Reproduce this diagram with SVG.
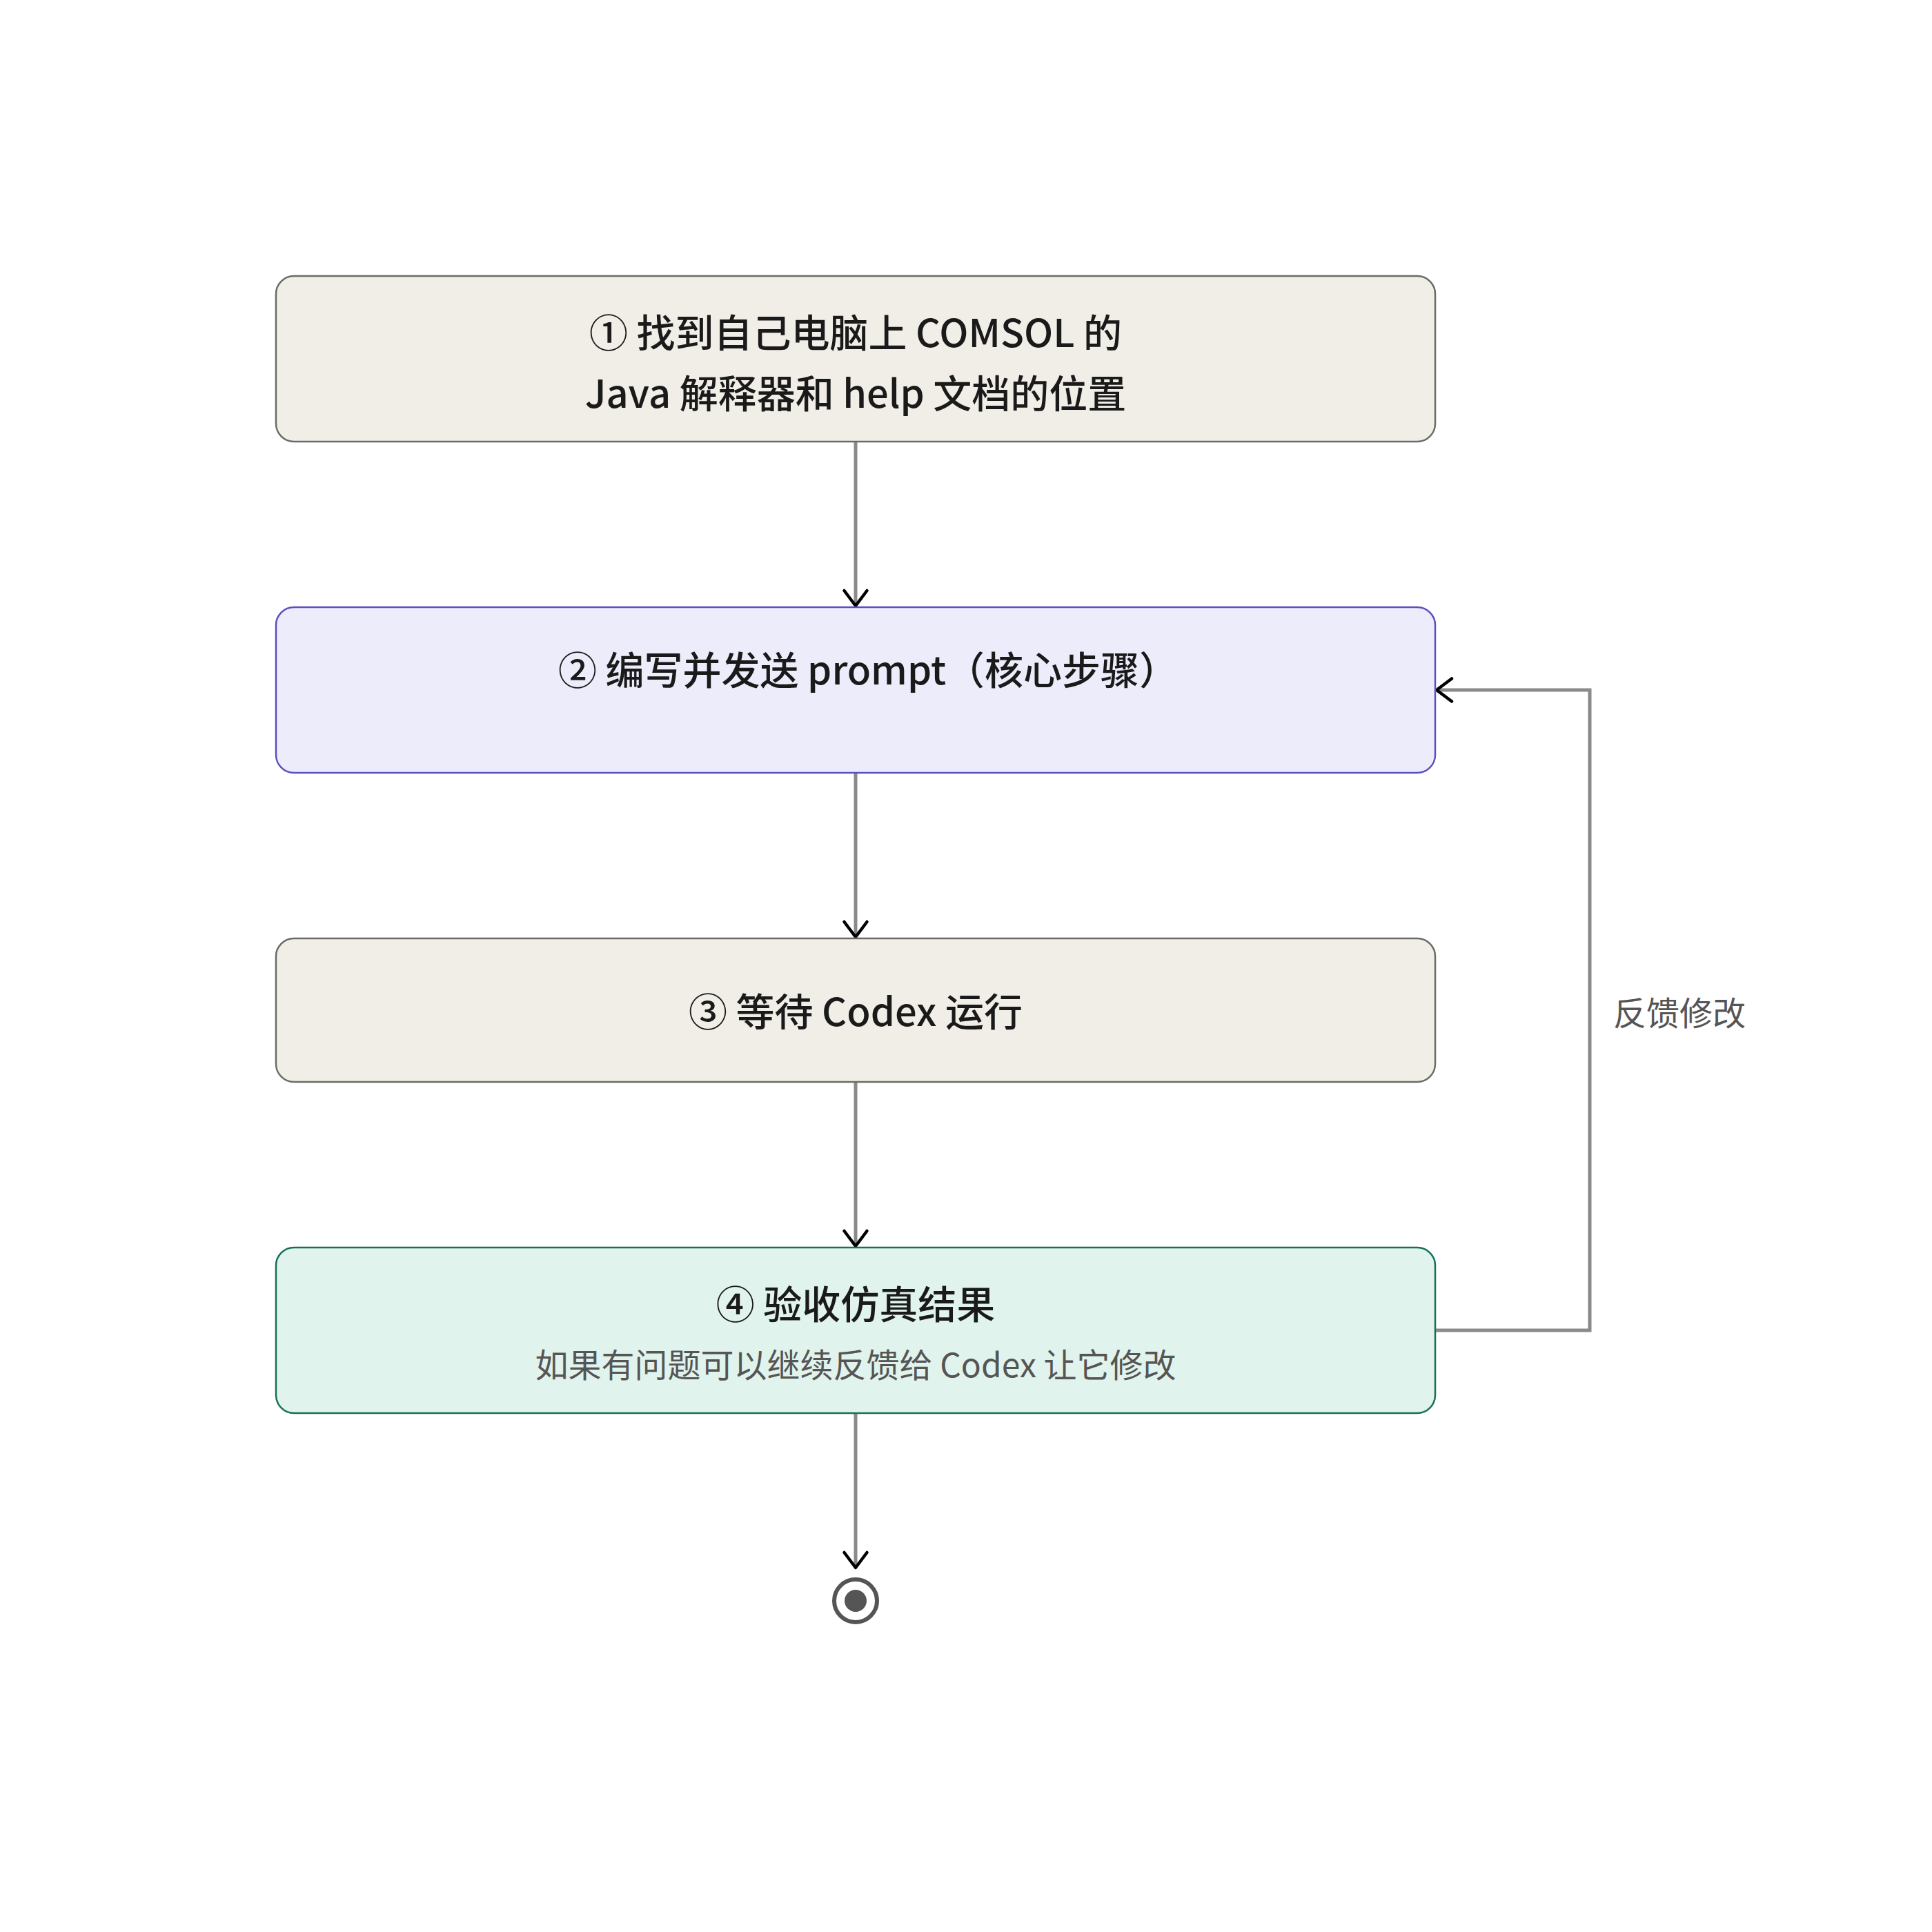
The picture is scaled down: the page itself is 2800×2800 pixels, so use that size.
<svg xmlns="http://www.w3.org/2000/svg" width="2800" height="2800" viewBox="0 0 2800 2800">
<style>
text{font-family:"Noto Sans CJK SC","Noto Sans",sans-serif;}
.t{font-size:56px;fill:#1a1a1a;text-anchor:middle;font-weight:500}
.s{font-size:48px;fill:#555555;text-anchor:middle}
.lbl{font-size:48px;fill:#555555}
.n-neutral{fill:#f1eee8;stroke:#6b6b66;stroke-width:2.5}
.n-core{fill:#ececfb;stroke:#5a50c0;stroke-width:2.5}
.n-ok{fill:#e0f3ec;stroke:#17705a;stroke-width:2.5}
.e{fill:none;stroke:#8a8a8a;stroke-width:5}
</style>
<defs>
<marker id="arr" markerUnits="userSpaceOnUse" viewBox="0 0 40 40" refX="36" refY="20" markerWidth="40" markerHeight="40" orient="auto">
<path d="M14 3.5 L36 20 L14 36.5" fill="none" stroke="#000" stroke-width="4.5" stroke-linecap="round" stroke-linejoin="round"/>
</marker>
</defs>
<rect width="2800" height="2800" fill="#ffffff"/>
<g id="connectors">
<line class="e" x1="1240" y1="640" x2="1240" y2="878" marker-end="url(#arr)"/>
<line class="e" x1="1240" y1="1120" x2="1240" y2="1358" marker-end="url(#arr)"/>
<line class="e" x1="1240" y1="1568" x2="1240" y2="1806" marker-end="url(#arr)"/>
<line class="e" x1="1240" y1="2048" x2="1240" y2="2272" marker-end="url(#arr)"/>
<polyline class="e" points="2080,1928 2304,1928 2304,1000 2082,1000" marker-end="url(#arr)"/>
<text class="lbl" x="2338" y="1486">反馈修改</text>
</g>
<g id="node1">
<rect class="n-neutral" x="400" y="400" width="1680" height="240" rx="26"/>
<text class="t" x="1240" y="503">① 找到自己电脑上 COMSOL 的</text>
<text class="t" x="1240" y="591">Java 解释器和 help 文档的位置</text>
</g>
<g id="node2">
<rect class="n-core" x="400" y="880" width="1680" height="240" rx="26"/>
<text class="t" x="1258" y="992">② 编写并发送 prompt（核心步骤）</text>
</g>
<g id="node3">
<rect class="n-neutral" x="400" y="1360" width="1680" height="208" rx="26"/>
<text class="t" x="1240" y="1487">③ 等待 Codex 运行</text>
</g>
<g id="node4">
<rect class="n-ok" x="400" y="1808" width="1680" height="240" rx="26"/>
<text class="t" x="1240" y="1911">④ 验收仿真结果</text>
<text class="s" x="1240" y="1996">如果有问题可以继续反馈给 Codex 让它修改</text>
</g>
<g id="end">
<circle cx="1240" cy="2320" r="31" fill="#ffffff" stroke="#555555" stroke-width="6"/>
<circle cx="1240" cy="2320" r="16" fill="#555555"/>
</g>
</svg>
